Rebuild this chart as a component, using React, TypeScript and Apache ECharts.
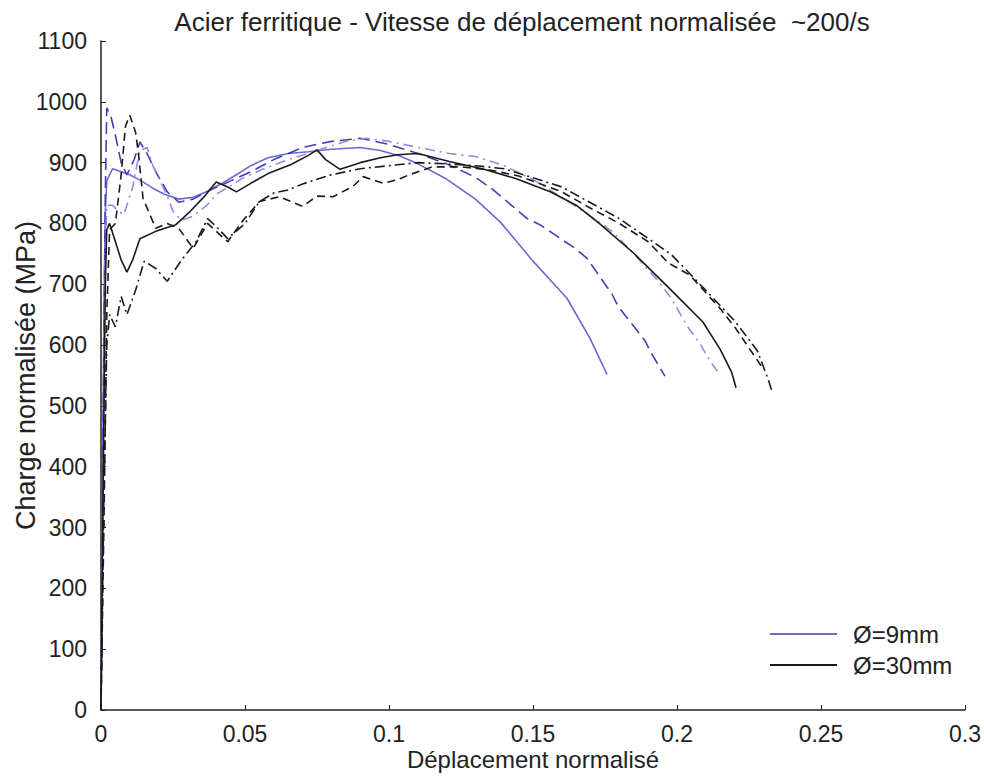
import React, { useEffect, useRef } from "react";
import * as echarts from "echarts";

const TITLE = "Acier ferritique - Vitesse de déplacement normalisée  ~200/s";
const X_NAME = "Déplacement normalisé";
const Y_NAME = "Charge normalisée (MPa)";
const LEGEND_NAMES = ["Ø=9mm", "Ø=30mm"];

// Ø=9mm, test 1 (solid blue)
const blue1: number[][] = [
  [0, 0], [0.0005, 300], [0.001, 650], [0.0015, 820], [0.002, 870], [0.004, 890], [0.007, 885],
  [0.01, 880], [0.014, 870], [0.018, 858], [0.022, 848], [0.027, 840], [0.032, 843], [0.037, 853],
  [0.042, 866], [0.047, 880], [0.052, 895], [0.058, 908], [0.065, 915], [0.072, 918], [0.08, 922],
  [0.09, 925], [0.097, 920], [0.1038, 911], [0.11, 898], [0.12, 873], [0.13, 840], [0.1385, 803],
  [0.1444, 770], [0.15, 738], [0.1618, 677], [0.1698, 611], [0.1757, 552],
];
// Ø=9mm, test 2 (dashed blue)
const blue2: number[][] = [
  [0, 0], [0.0008, 500], [0.0015, 850], [0.002, 990], [0.0035, 975], [0.005, 945], [0.007, 900],
  [0.009, 880], [0.0115, 905], [0.0135, 934], [0.016, 915], [0.019, 885], [0.023, 852], [0.027, 835],
  [0.032, 840], [0.038, 855], [0.045, 870], [0.052, 885], [0.06, 905], [0.07, 925], [0.08, 935],
  [0.09, 940], [0.1, 930], [0.11, 915], [0.12, 898], [0.13, 876], [0.136, 856], [0.148, 808],
  [0.1524, 798], [0.1646, 759], [0.1687, 743], [0.1774, 684], [0.1795, 664], [0.1889, 607],
  [0.1913, 585], [0.1958, 549],
];
// Ø=9mm, test 3 (dash-dot light blue)
const blue3: number[][] = [
  [0, 0], [0.0008, 400], [0.0015, 750], [0.002, 830], [0.004, 830], [0.006, 820], [0.008, 815],
  [0.011, 860], [0.0135, 920], [0.016, 925], [0.018, 895], [0.021, 865], [0.023, 845], [0.025, 820],
  [0.028, 805], [0.032, 812], [0.037, 831], [0.04, 848], [0.045, 862], [0.049, 874], [0.056, 889],
  [0.065, 905], [0.075, 920], [0.085, 935], [0.092, 940], [0.1, 935], [0.11, 925], [0.121, 915],
  [0.13, 910], [0.14, 895], [0.15, 872], [0.16, 843], [0.17, 812], [0.178, 785], [0.185, 750],
  [0.193, 708], [0.198, 677], [0.201, 652], [0.204, 628], [0.208, 602], [0.2115, 574], [0.214, 557],
];
// Ø=30mm, test 1 (solid black)
const black1: number[][] = [
  [0, 0], [0.0008, 400], [0.0015, 700], [0.002, 790], [0.003, 800], [0.005, 770], [0.007, 740],
  [0.009, 720], [0.011, 740], [0.0135, 775], [0.019, 787], [0.026, 798], [0.031, 820], [0.036, 845],
  [0.04, 868], [0.044, 860], [0.047, 852], [0.052, 866], [0.058, 882], [0.066, 897], [0.072, 912],
  [0.075, 921], [0.078, 905], [0.083, 889], [0.09, 900], [0.097, 908], [0.103, 913], [0.11, 915],
  [0.121, 902], [0.133, 889], [0.144, 874], [0.156, 852], [0.165, 830], [0.173, 800], [0.185, 751],
  [0.197, 695], [0.209, 638], [0.215, 593], [0.219, 555], [0.2205, 530],
];
// Ø=30mm, test 2 (dashed black)
const black2: number[][] = [
  [0, 0], [0.001, 300], [0.002, 650], [0.003, 790], [0.005, 800], [0.007, 880], [0.0085, 960],
  [0.01, 978], [0.012, 950], [0.013, 915], [0.0146, 841], [0.019, 792], [0.023, 800], [0.027, 792],
  [0.032, 759], [0.037, 800], [0.044, 770], [0.049, 803], [0.055, 836], [0.062, 844], [0.066, 836],
  [0.07, 828], [0.075, 845], [0.0806, 844], [0.0875, 861], [0.091, 877], [0.098, 866], [0.103, 872],
  [0.107, 880], [0.115, 893], [0.125, 893], [0.135, 888], [0.145, 878], [0.16, 852], [0.17, 825],
  [0.18, 800], [0.19, 770], [0.197, 735], [0.2045, 715], [0.215, 660], [0.22, 630], [0.2295, 564],
];
// Ø=30mm, test 3 (dash-dot black)
const black3: number[][] = [
  [0, 0], [0.001, 350], [0.002, 600], [0.003, 650], [0.005, 630], [0.007, 680], [0.009, 650],
  [0.012, 690], [0.015, 738], [0.019, 726], [0.023, 705], [0.028, 740], [0.033, 770], [0.037, 808],
  [0.04, 795], [0.044, 775], [0.05, 800], [0.055, 836], [0.06, 850], [0.065, 855], [0.07, 865],
  [0.08, 880], [0.09, 890], [0.1, 895], [0.11, 900], [0.12, 898], [0.13, 895], [0.14, 890],
  [0.16, 860], [0.18, 808], [0.198, 749], [0.21, 690], [0.22, 640], [0.228, 590], [0.232, 539],
  [0.233, 523],
];

const BLUE = "#6a6ad2";
const BLUE_DARK = "#4040b8";
const BLUE_LIGHT = "#8e8ede";
const BLACK = "#1a1a1a";
const FONT = "Liberation Sans, Arial, sans-serif";

export default function App() {
  const ref = useRef<HTMLDivElement>(null);
  useEffect(() => {
    if (!ref.current) return;
    const chart = echarts.init(ref.current, undefined, { renderer: "svg" });
    const line = (name: string, data: number[][], color: string, type: any, z: number) => ({
      name,
      type: "line",
      data,
      showSymbol: false,
      symbol: "none",
      z,
      lineStyle: { color, width: 1.6, type },
      itemStyle: { color },
    });
    chart.setOption({
      animation: false,
      backgroundColor: "#ffffff",
      textStyle: { fontFamily: FONT },
      title: {
        text: TITLE,
        left: 517,
        textAlign: "center",
        top: 4,
        textStyle: { fontSize: 26, fontWeight: "normal", color: "#222", fontFamily: FONT },
      },
      grid: { left: 101, right: 19, top: 41, bottom: 69, containLabel: false, outerBoundsMode: "none" },
      legend: {
        orient: "vertical",
        left: 765,
        top: 617,
        itemWidth: 67,
        itemHeight: 2,
        itemGap: 7,
        selectedMode: false,
        textStyle: { fontSize: 24, color: "#222", fontFamily: FONT, lineHeight: 24, padding: [0, 0, 0, 11] },
        data: [
          { name: LEGEND_NAMES[0], icon: "rect", itemStyle: { color: BLUE } },
          { name: LEGEND_NAMES[1], icon: "rect", itemStyle: { color: BLACK } },
        ],
      },
      xAxis: {
        type: "value",
        min: 0,
        max: 0.3,
        interval: 0.05,
        name: X_NAME,
        nameLocation: "middle",
        nameGap: 37,
        nameMoveOverlap: false,
        nameTextStyle: { fontSize: 24, color: "#222", fontFamily: FONT },
        axisLine: { lineStyle: { color: "#222", width: 1.5 } },
        axisTick: { inside: true, length: 5, lineStyle: { color: "#222" } },
        axisLabel: { fontSize: 23, color: "#222", margin: 12, fontFamily: FONT, formatter: (v: number) => String(+v.toFixed(2)) },
        splitLine: { show: false },
      },
      yAxis: {
        type: "value",
        min: 0,
        max: 1100,
        interval: 100,
        name: Y_NAME,
        nameLocation: "middle",
        nameRotate: 90,
        nameGap: 62,
        nameMoveOverlap: false,
        nameTextStyle: { fontSize: 27, color: "#222", fontFamily: FONT },
        axisLine: { show: true, lineStyle: { color: "#222", width: 1.5 } },
        axisTick: { show: true, inside: true, length: 5, lineStyle: { color: "#222" } },
        axisLabel: { fontSize: 23, color: "#222", margin: 14, fontFamily: FONT, formatter: (v: number) => String(v) },
        splitLine: { show: false },
      },
      series: [
        line("Ø=9mm", blue1, BLUE, "solid", 3),
        line("Ø=9mm (2)", blue2, BLUE_DARK, [12, 6], 3),
        line("Ø=9mm (3)", blue3, BLUE_LIGHT, [10, 5, 2, 5], 3),
        line("Ø=30mm", black1, BLACK, "solid", 4),
        line("Ø=30mm (2)", black2, BLACK, [8, 5], 4),
        line("Ø=30mm (3)", black3, BLACK, [10, 4, 2, 4], 4),
      ],
    });
    return () => chart.dispose();
  }, []);
  return (
    <div
      ref={ref}
      style={{ position: "absolute", left: 0, top: 0, width: 984, height: 779, background: "#fff" }}
    />
  );
}
